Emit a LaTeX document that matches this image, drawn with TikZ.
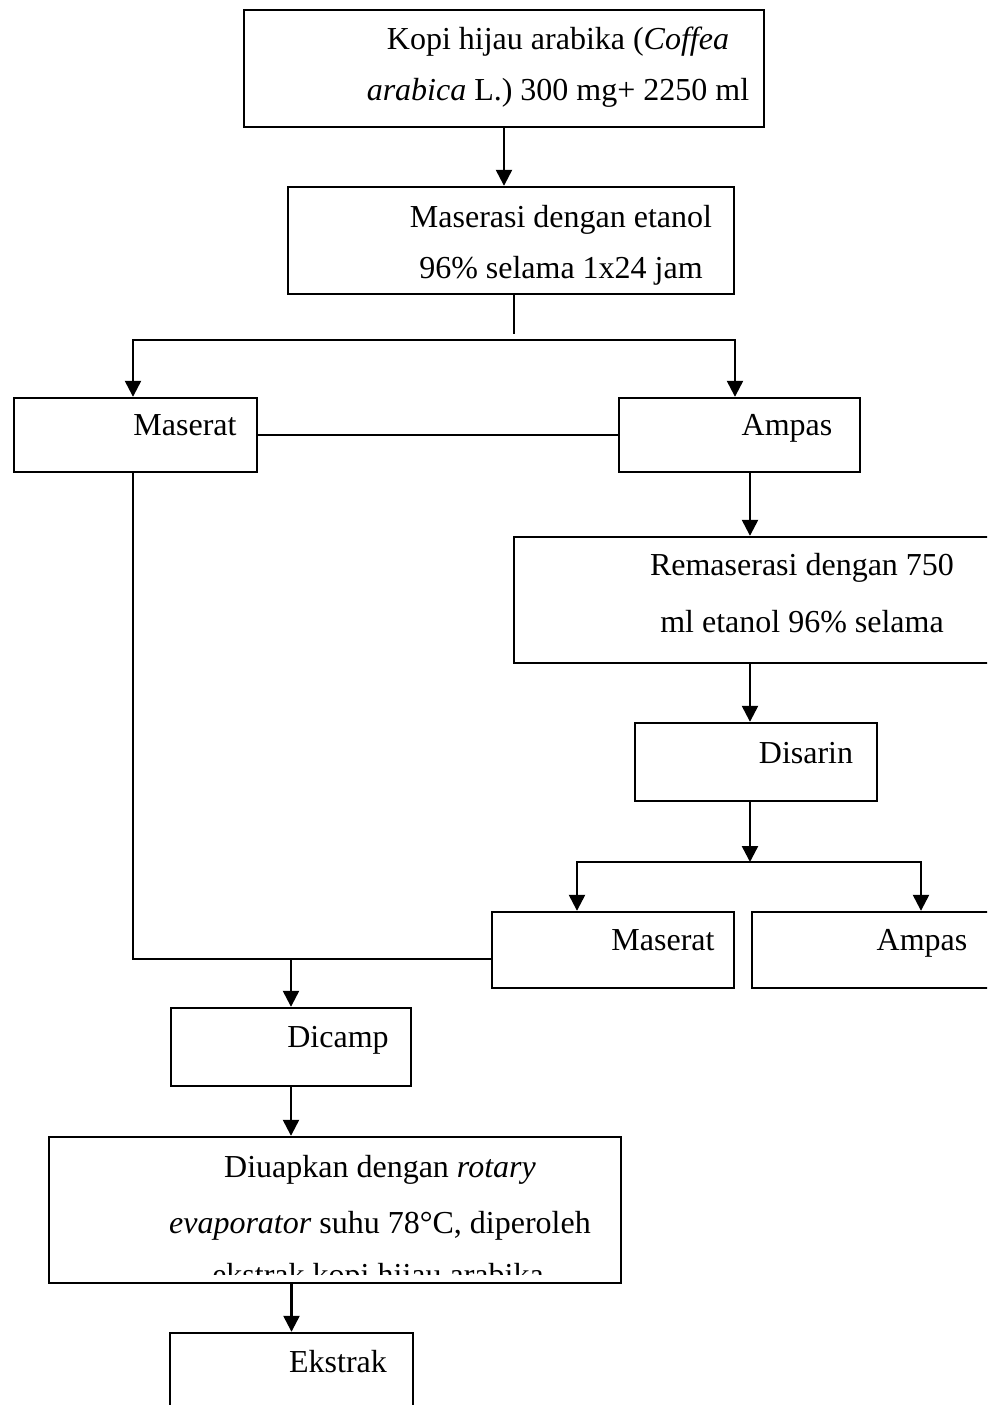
\documentclass[tikz,border=0pt]{standalone}
\usepackage{fontspec}
\setmainfont{Liberation Serif}
\usetikzlibrary{positioning,arrows.meta,calc}

\begin{document}
\begin{tikzpicture}[
    x=0.5pt, y=-0.5pt,
    box/.style={rectangle, draw, line width=1.2pt, inner sep=0pt},
    txt/.style={anchor=base, align=center, inner sep=0pt, font=\fontsize{16}{25.5}\selectfont},
    arr/.style={-{Triangle[length=8pt, width=8pt]}, line width=1.2pt},
    link/.style={line width=1.2pt}
]
    \useasboundingbox (0,0) rectangle (987,1405);
    \clip (0,0) rectangle (987,1405);

    % Boxes
    \node[box, minimum width=260pt, minimum height=58.5pt] (kopi) at (504,68.5) {};
    \node[box, minimum width=223pt, minimum height=53.5pt] (maserasi) at (511,240.5) {};
    \node[box, minimum width=121.5pt, minimum height=37pt] (maserat1) at (135.5,435) {};
    \node[box, minimum width=120.5pt, minimum height=37pt] (ampas1) at (739.5,435) {};
    \node[box, minimum width=248pt, minimum height=63pt] (remaserasi) at (762,600) {};
    \node[box, minimum width=121pt, minimum height=39pt] (disarin) at (756,762) {};
    \node[box, minimum width=121pt, minimum height=38pt] (maserat2) at (613,950) {};
    \node[box, minimum width=129pt, minimum height=38pt] (ampas2) at (881,950) {};
    \node[box, minimum width=120pt, minimum height=39pt] (dicamp) at (291,1047) {};
    \node[box, minimum width=286pt, minimum height=73pt] (diuapkan) at (335,1210) {};
    \node[box, minimum width=121.5pt, minimum height=43.5pt] (ekstrak) at (291.5,1376.5) {};

    % Texts (base = last line)
    \node[txt] (kopi-t) at (558,100) {Kopi hijau arabika (\textit{Coffea}\\\textit{arabica} L.) 300 mg+ 2250 ml};
    \node[txt] (maserasi-t) at (561,278) {Maserasi dengan etanol\\96\% selama 1x24 jam};
    \node[txt] (maserat1-t) at (185,435) {Maserat};
    \node[txt] (ampas1-t) at (787,435) {Ampas};
    \node[txt, font=\fontsize{16}{28.5}\selectfont] (remaserasi-t) at (802,632) {Remaserasi dengan 750\\ml etanol 96\% selama};
    \node[txt] (disarin-t) at (806,763) {Disarin};
    \node[txt] (maserat2-t) at (663,950) {Maserat};
    \node[txt] (ampas2-t) at (922,950) {Ampas};
    \node[txt] (dicamp-t) at (338,1047) {Dicamp};
    \node[txt, font=\fontsize{16}{28}\selectfont] (diuapkan-t) at (380,1233) {Diuapkan dengan \textit{rotary}\\\textit{evaporator} suhu 78°C, diperoleh};
    \begin{scope}
        \clip (49,1137) rectangle (621,1274);
        \node[txt] (diuapkan-t3) at (378,1285) {ekstrak kopi hijau arabika};
    \end{scope}
    \node[txt] (ekstrak-t) at (338,1372) {Ekstrak};

    % Helper points
    \coordinate (stem1) at (514,334);
    \coordinate (bar1) at (514,340);
    \coordinate (col2) at (750,0);
    \coordinate (bar2) at (750,862);
    \coordinate (join) at (291,959);

    % Connectors
    \draw[arr] (kopi.south) -- (kopi.south |- maserasi.north);
    \draw[link] (maserasi.south -| stem1) -- (stem1);
    \draw[arr] (bar1) -| ($(maserat1.north)+(-2.5,0)$);
    \draw[arr] (bar1) -| ($(ampas1.north)+(-4.5,0)$);
    \draw[link] (maserat1.east) -- (ampas1.west);
    \draw[arr] (ampas1.south -| col2) -- (remaserasi.north -| col2);
    \draw[arr] (remaserasi.south -| col2) -- (disarin.north -| col2);
    \draw[arr] (disarin.south -| bar2) -- (bar2);
    \draw[arr] (bar2) -| ($(maserat2.north)+(-36,0)$);
    \draw[arr] (bar2) -| ($(ampas2.north)+(40,0)$);
    \draw[link] ($(maserat1.south)+(-2.5,0)$) |- ($(maserat2.west)+(0,9)$);
    \draw[arr] (join) -- (dicamp.north);
    \draw[arr] (dicamp.south) -- (dicamp.south |- diuapkan.north);
    \draw[arr] (ekstrak.north |- diuapkan.south) -- (ekstrak.north);
\end{tikzpicture}
\end{document}
